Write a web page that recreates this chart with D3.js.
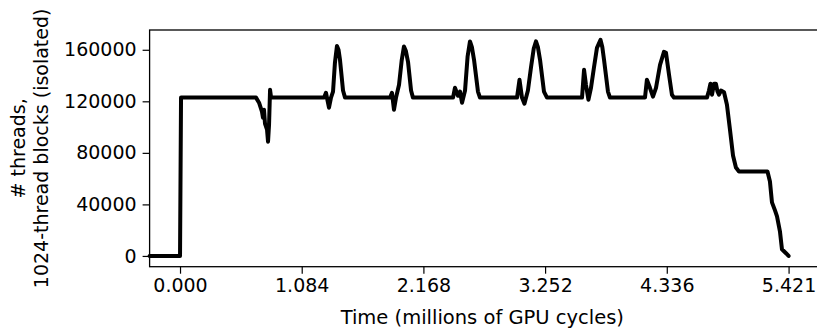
<!DOCTYPE html>
<html>
<head>
<meta charset="utf-8">
<script src="https://cdn.jsdelivr.net/npm/d3@7"></script>
<style>
  body { margin: 0; background: #fff; }
  text { font-family: 'DejaVu Sans', sans-serif; fill: #000; }
</style>
</head>
<body>
<script>
// time in millions of GPU cycles
const timeMillions = [
  -0.271, 0.000, 0.009, 0.677, 0.704, 0.730, 0.739, 0.748, 0.757, 0.775, 0.784, 0.793, 0.802, 0.811,
  1.283, 1.300, 1.327, 1.345, 1.363, 1.380, 1.398, 1.412, 1.425, 1.452, 1.470,
  1.871, 1.888, 1.906, 1.924, 1.951, 1.975, 1.995, 2.012, 2.031, 2.058, 2.075,
  2.432, 2.449, 2.476, 2.494, 2.512, 2.539, 2.562, 2.583, 2.600, 2.619, 2.654, 2.672,
  3.002, 3.024, 3.046, 3.068, 3.099, 3.126, 3.151, 3.171, 3.188, 3.207, 3.242, 3.269,
  3.581, 3.599, 3.616, 3.638, 3.661, 3.687, 3.714, 3.746, 3.762, 3.777, 3.812, 3.830,
  4.142, 4.159, 4.186, 4.213, 4.240, 4.276, 4.311, 4.329, 4.356, 4.382, 4.400,
  4.694, 4.712, 4.725, 4.739, 4.756, 4.774, 4.788, 4.801, 4.819, 4.846, 4.872, 4.899, 4.926, 4.952, 4.979,
  5.233, 5.255, 5.273, 5.300, 5.318, 5.344, 5.362, 5.398, 5.421
];

// # threads in flight
const threads = [
  0, 0, 122880, 122880, 118900, 111950, 107300, 113500, 102700, 98000, 88700, 101900, 129000, 122880,
  122880, 126650, 115050, 122880, 127600, 150000, 163000, 160000, 152200, 128400, 122880,
  122880, 126650, 113500, 122880, 132850, 152000, 162600, 159000, 150650, 128400, 122880,
  122880, 130500, 124300, 127600, 118900, 128400, 155000, 166500, 162000, 152200, 127600, 122880,
  122880, 136700, 122880, 118150, 128400, 146000, 161000, 166500, 162000, 152200, 127600, 122880,
  122880, 144450, 132850, 121250, 130500, 146000, 161500, 167650, 162000, 152200, 127600, 122880,
  122880, 136700, 130500, 123600, 130500, 148300, 158400, 157600, 140600, 125100, 122880,
  122880, 128400, 133600, 125100, 133600, 133600, 127600, 125100, 128400, 127050, 117400, 98000, 77900, 68600, 65536,
  65536, 57800, 41550, 35350, 30700, 19100, 5200, 2100, 0
];

const xTicks = [0, 1.084, 2.168, 3.252, 4.336, 5.421];
const yTicks = [0, 40000, 80000, 120000, 160000];

const width = 817, height = 330;
const margins = {top: 30, right: -2, bottom: 63.3, left: 149.6};

const svg = d3.select('body').append('svg')
  .attr('width', width)
  .attr('height', height);

const x = d3.scaleLinear()
  .domain([-0.271, 5.692])
  .range([margins.left, width - margins.right]);

const y = d3.scaleLinear()
  .domain([-8350, 175350])
  .range([height - margins.bottom, margins.top]);

const points = timeMillions.map((t, i) => [t, threads[i]]);

svg.append('path')
  .datum(points)
  .attr('fill', 'none')
  .attr('stroke', '#000')
  .attr('stroke-width', 4)
  .attr('stroke-linejoin', 'round')
  .attr('stroke-linecap', 'round')
  .attr('d', d3.line().x((d) => x(d[0])).y((d) => y(d[1])));

const xAxis = svg.append('g')
  .attr('transform', `translate(0,${height - margins.bottom})`)
  .call(d3.axisBottom(x).tickValues(xTicks).tickFormat(d3.format('.3f')).tickSize(7).tickPadding(5));

const yAxis = svg.append('g')
  .attr('transform', `translate(${margins.left},0)`)
  .call(d3.axisLeft(y).tickValues(yTicks).tickFormat(d3.format('d')).tickSize(7).tickPadding(6));

[xAxis, yAxis].forEach((g) => {
  g.select('.domain').remove();
  g.selectAll('.tick line').attr('stroke', '#000').attr('stroke-width', 1.2);
  g.selectAll('.tick text').style('font-size', '19px').style('font-family', 'DejaVu Sans');
});

// spines
const x0 = x.range()[0], x1 = x.range()[1], y0 = y.range()[0], y1 = y.range()[1];
svg.append('rect')
  .attr('x', x0).attr('y', y1)
  .attr('width', x1 - x0).attr('height', y0 - y1)
  .attr('fill', 'none')
  .attr('stroke', '#000')
  .attr('stroke-width', 1.3);

svg.append('text')
  .attr('x', (x0 + x1) / 2 - 2)
  .attr('y', 324)
  .attr('text-anchor', 'middle')
  .style('font-size', '19.5px')
  .text('Time (millions of GPU cycles)');

const yLabel = svg.append('text')
  .attr('transform', `translate(0,${(y0 + y1) / 2}) rotate(-90)`)
  .attr('text-anchor', 'middle')
  .style('font-size', '19px');
yLabel.append('tspan').attr('x', 0).attr('y', 25).text('# threads,');
yLabel.append('tspan').attr('x', 0).attr('y', 48).text('1024-thread blocks (isolated)');
</script>
</body>
</html>
